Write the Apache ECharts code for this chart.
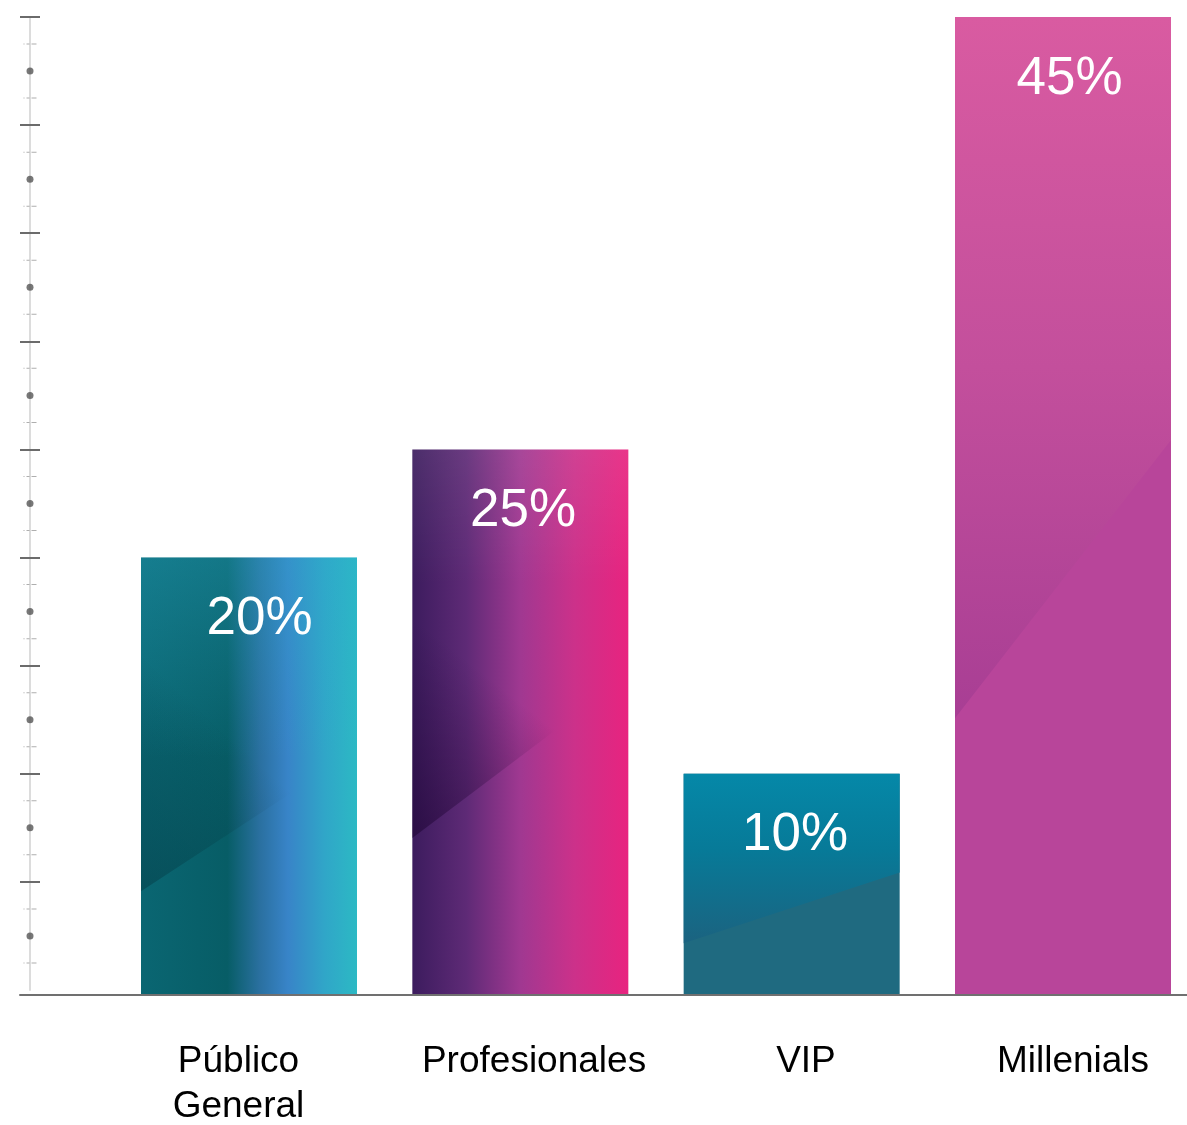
<!DOCTYPE html>
<html><head><meta charset="utf-8">
<script src="https://cdn.jsdelivr.net/npm/echarts@6/dist/echarts.min.js"></script>
<style>html,body{margin:0;padding:0;background:#fff}#c{width:1187px;height:1125px}</style>
</head><body><div id="c"></div>
<script>
// ---- data ----
const categories = ['Público\nGeneral', 'Profesionales', 'VIP', 'Millenials'];
const shares = [20, 25, 10, 45];
const valueLabels = ['20%', '25%', '10%', '45%'];
const axisMin = 0, axisMax = 45, axisStep = 5;
const tickValues = [5, 10, 15, 20, 25, 30, 35, 40, 45];
const dotLevels = [2.5, 7.5, 12.5, 17.5, 22.5, 27.5, 32.5, 37.5, 42.5];
const minorLevels = [1.25, 3.75, 6.25, 8.75, 11.25, 13.75, 16.25, 18.75, 21.25, 23.75,
  26.25, 28.75, 31.25, 33.75, 36.25, 38.75, 41.25, 43.75];

// ---- styles ----
const G = echarts.graphic.LinearGradient;
const FONT = '"Liberation Sans", Arial, Helvetica, sans-serif';
const BAR_W = 216;
const BAR_FOOT = 5;
const CAT_RANGE_MAX = 3.457; // visible extent of the category position axis
function fade(rgb, stops) {
  return new G(0, 0, 0, 1, stops.map(s => ({ offset: s[0], color: 'rgba(' + rgb + ',' + s[1] + ')' })));
}
function cornerFade(rgb, stops) { // darkest toward the lower-left corner of the upper polygon
  return new G(1, 0.3, 0, 1, stops.map(s => ({ offset: s[0], color: 'rgba(' + rgb + ',' + s[1] + ')' })));
}
const barLooks = [
  { base: new G(0,0,1,0,[{offset:0,color:'#0a6672'},{offset:0.4,color:'#075d66'},{offset:0.55,color:'#2a70a0'},{offset:0.68,color:'#3884c8'},{offset:0.85,color:'#30a6c8'},{offset:1,color:'#2cb9c4'}]),
    overlays: [fade('45,175,205', [[0, 0.32], [0.6, 0]]), cornerFade('0,30,40', [[0.45, 0], [1, 0.3]])],
    fL: 0.763, fR: 0.44, dx: 10.5 },
  { base: new G(0,0,1,0,[{offset:0,color:'#3c1c5e'},{offset:0.25,color:'#5e2a76'},{offset:0.5,color:'#a03891'},{offset:0.75,color:'#cc318a'},{offset:1,color:'#e8237f'}]),
    overlays: [fade('255,255,255', [[0, 0.08], [0.35, 0]]), cornerFade('25,0,45', [[0.5, 0], [1, 0.5]])],
    fL: 0.712, fR: 0.414, dx: 2.7 },
  { base: '#1f6a80',
    overlays: [new G(0,0,0,1,[{offset:0,color:'#0588a8'},{offset:0.45,color:'#077a98'},{offset:1,color:'#1b6380'}])],
    fL: 0.766, fR: 0.446, dx: 3.3 },
  { base: '#b8459a',
    overlays: [new G(0,0,0,1,[{offset:0,color:'#d95ba1'},{offset:0.5,color:'#c34f9c'},{offset:1,color:'#a83e94'}])],
    fL: 0.717, fR: 0.4325, dx: 6.5 }
];
const catShift = [-10.5, 13.7, 14.3, 10];

const rich = {};
catShift.forEach((s, i) => {
  rich['s' + i] = {
    fontSize: 37, fontFamily: FONT, color: '#000', lineHeight: 45,
    padding: s >= 0 ? [0, 0, 0, 2 * s] : [0, -2 * s, 0, 0]
  };
});

const chart = echarts.init(document.getElementById('c'), null, { renderer: 'canvas' });
chart.setOption({
  animation: false,
  backgroundColor: '#fff',
  grid: [
    { left: 249, top: 17, right: 0, height: 973 },
    { left: 20, top: 17, right: 0, height: 978 },
    { left: 30, top: 17, right: 0, height: 973 }
  ],
  xAxis: [
    { type: 'value', gridIndex: 0, min: 0, max: CAT_RANGE_MAX, interval: 1,
      axisLine: { show: false }, axisTick: { show: false }, splitLine: { show: false },
      axisLabel: { margin: 49, showMaxLabel: false,
        formatter: (v) => {
          const name = Number.isInteger(v) ? categories[v] : undefined;
          if (!name) return '';
          return name.split('\n').map(l => '{s' + v + '|' + l + '}').join('\n');
        },
        rich: rich } },
    { type: 'value', gridIndex: 1, min: 0, max: 1, z: 10,
      axisLine: { show: true, onZero: false, lineStyle: { color: '#707070', width: 2 } },
      axisTick: { show: false }, axisLabel: { show: false }, splitLine: { show: false } },
    { type: 'value', gridIndex: 2, min: 0, max: 1, show: false }
  ],
  yAxis: [
    { type: 'value', gridIndex: 0, min: axisMin, max: axisMax, interval: axisStep, show: false },
    { type: 'value', gridIndex: 1, min: axisMin, max: axisMax, interval: axisStep, show: false },
    { type: 'value', gridIndex: 2, position: 'left', min: axisMin, max: axisMax, interval: axisStep,
      axisLine: { show: true, lineStyle: { color: '#dcdcdc', width: 2 } },
      axisTick: { show: false }, axisLabel: { show: false }, splitLine: { show: false } },
    { type: 'value', gridIndex: 2, position: 'left', offset: -10, min: axisMin, max: axisMax, interval: axisStep,
      axisLine: { show: false },
      axisTick: { show: true, length: 20, customValues: tickValues, lineStyle: { color: '#6b6b6b', width: 2 } },
      axisLabel: { show: false }, splitLine: { show: false } }
  ],
  series: [
    { type: 'custom', xAxisIndex: 0, yAxisIndex: 0, clip: false,
      data: shares.map((v, i) => [i, v]),
      encode: { x: 0, y: 1 },
      renderItem: function (params, api) {
        const i = api.value(0);
        const top = api.coord([i, api.value(1)]);
        const base = api.coord([i, 0]);
        const x0 = top[0] - BAR_W / 2;
        const x1 = top[0] + BAR_W / 2;
        const h = base[1] + BAR_FOOT - top[1];
        const look = barLooks[i];
        const pts = [[x0, top[1]], [x1, top[1]], [x1, top[1] + h * look.fR], [x0, top[1] + h * look.fL]];
        const children = [
          { type: 'rect', shape: { x: x0, y: top[1], width: BAR_W, height: h }, style: { fill: look.base } }
        ];
        look.overlays.forEach(f => children.push({ type: 'polygon', shape: { points: pts }, style: { fill: f } }));
        children.push({ type: 'text', x: top[0] + look.dx, y: top[1] + 62,
          style: { text: valueLabels[i], fill: '#fff', font: '53px ' + FONT, align: 'center', verticalAlign: 'middle' } });
        return { type: 'group', children: children };
      }
    },
    { type: 'scatter', xAxisIndex: 2, yAxisIndex: 2, symbol: 'circle', symbolSize: 7,
      itemStyle: { color: '#555' }, data: dotLevels.map(v => [0, v]), silent: true, z: 5 },
    { type: 'scatter', xAxisIndex: 2, yAxisIndex: 2,
      symbol: 'path://M0,0h1v1h-1zM3,0h3v1h-3zM8,0h5v1h-5z', symbolSize: [13, 1],
      itemStyle: { color: '#9a9a9a' }, data: minorLevels.map(v => [0, v]), silent: true, z: 5 }
  ]
});
</script></body></html>
